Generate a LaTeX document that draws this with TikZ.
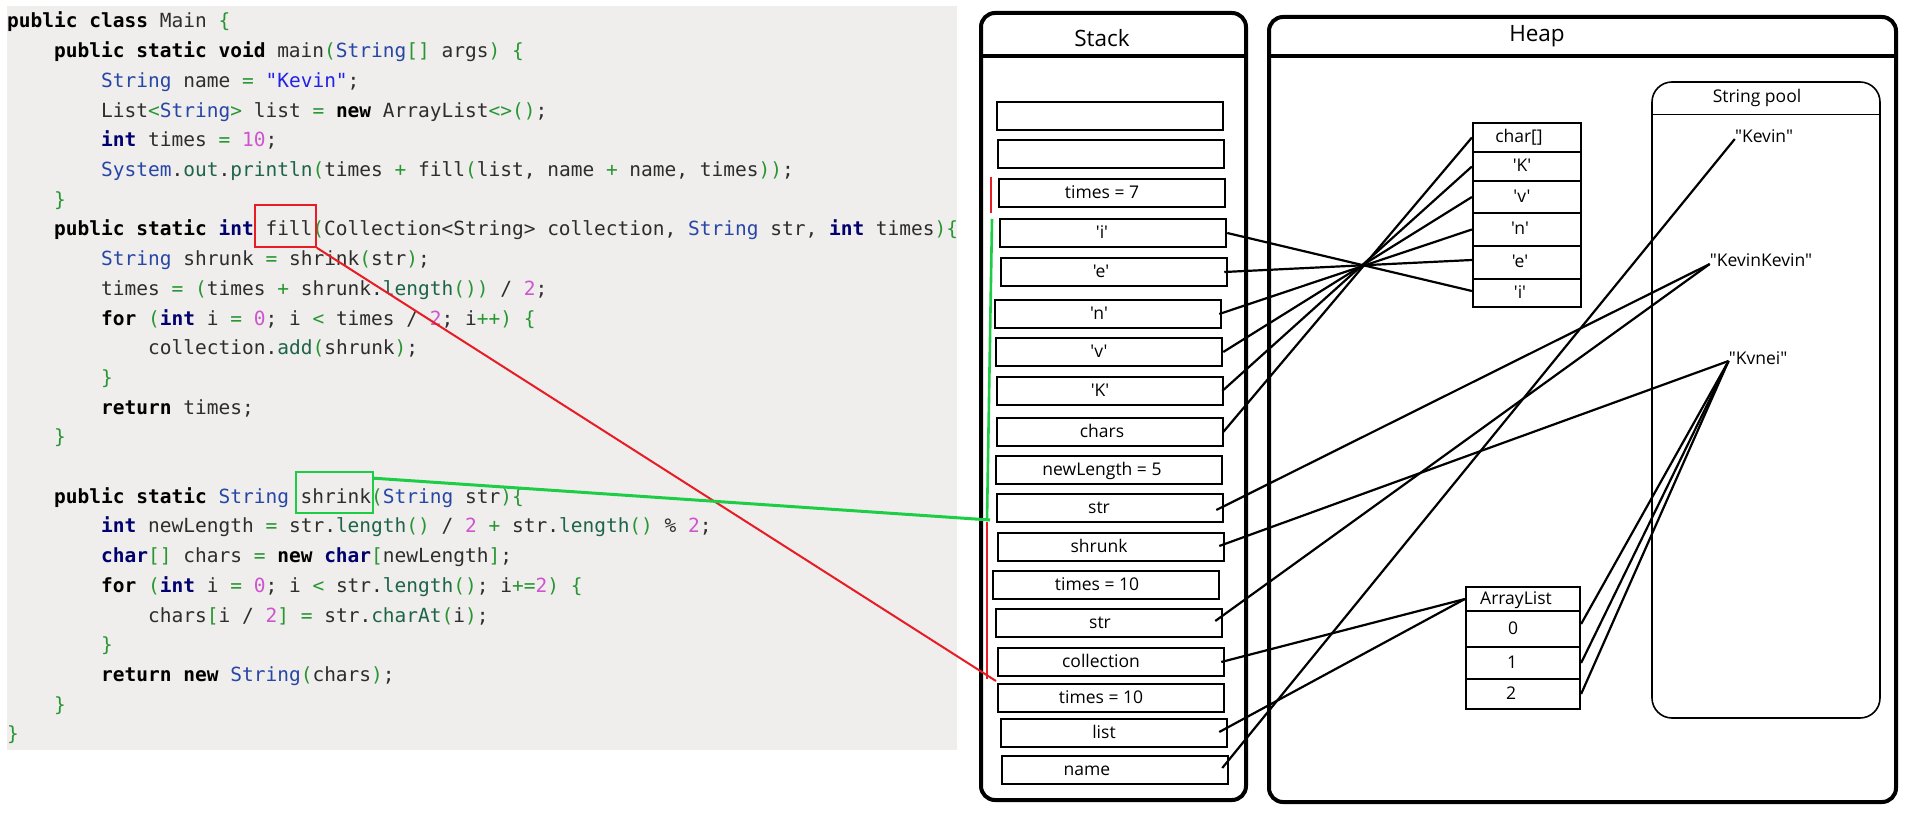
\documentclass[tikz,border=0pt]{standalone}
\usepackage{fontspec}
\newfontfamily\codefont{DejaVu Sans Mono}
\newfontfamily\diagfont{Open Sans}
\definecolor{codebg}{RGB}{239,238,237}
\definecolor{cid}{RGB}{45,45,45}
\definecolor{cnavy}{RGB}{0,0,110}
\definecolor{cblue}{RGB}{40,70,165}
\definecolor{cstr}{RGB}{35,35,230}
\definecolor{cnum}{RGB}{205,85,205}
\definecolor{cop}{RGB}{40,150,50}
\definecolor{cmem}{RGB}{30,100,70}
\definecolor{cred}{RGB}{232,28,36}
\definecolor{cgreen}{RGB}{30,205,70}
\newcommand\ckw[1]{{\bfseries\color{black}#1}}
\newcommand\cpt[1]{{\bfseries\color{cnavy}#1}}
\newcommand\cty[1]{{\color{cblue}#1}}
\newcommand\cst[1]{{\color{cstr}#1}}
\newcommand\cnm[1]{{\color{cnum}#1}}
\newcommand\cop[1]{{\color{cop}#1}}
\newcommand\cme[1]{{\color{cmem}#1}}
\begin{document}
\begin{tikzpicture}[x=1pt,y=-1pt,
  code/.style={anchor=base west, inner sep=0, font=\codefont\fontsize{19.5}{23}\selectfont, text=cid},
  lbl/.style={font=\diagfont\fontsize{17.5}{20}\selectfont, inner sep=0, text height=10.5, text depth=0},
  tx/.style 2 args={label={[lbl,xshift=#1]center:#2}},
  stk/.style={draw, line width=2.5, minimum width=226, minimum height=28, inner sep=0},
  cell/.style={draw, line width=2.2, inner sep=0},
  frame/.style={draw, line width=4, rounded corners=14},
  title/.style={font=\diagfont\fontsize{22.5}{26}\selectfont, inner sep=0},
  con/.style={line width=2.2},
  mark/.style={draw=#1, line width=1.6, inner sep=0},
  annot/.style={draw=#1, line width=2.6},
]
\useasboundingbox (0,0) rectangle (1907,816);
\fill[white] (0,0) rectangle (1907,816);
% ---------------- code ----------------
\fill[codebg] (7,6) rectangle (957,750);
\node[code] (L1) at (7,28) {\ckw{public class} Main \cop{\{}};
\node[code] (L2) at (54,57.7) {\ckw{public static void} main\cop{(}\cty{String}\cop{[]} args\cop{)} \cop{\{}};
\node[code] (L3) at (101,87.4) {\cty{String} name \cop{=} \cst{"Kevin"};};
\node[code] (L4) at (101,117.1) {List\cop{<}\cty{String}\cop{>} list \cop{=} \ckw{new} ArrayList\cop{<>()};};
\node[code] (L5) at (101,146.8) {\cpt{int} times \cop{=} \cnm{10};};
\node[code] (L6) at (101,176.5) {\cty{System}.\cme{out}.\cme{println}\cop{(}times \cop{+} fill\cop{(}list, name \cop{+} name, times\cop{))};};
\node[code] (L7) at (54,206.2) {\cop{\}}};
\node[code] (L8) at (54,235.9) {\ckw{public static} \cpt{int} fill\cop{(}Collection<String> collection, \cty{String} str, \cpt{int} times\cop{)\{}};
\node[code] (L9) at (101,265.6) {\cty{String} shrunk \cop{=} shrink\cop{(}str\cop{)};};
\node[code] (L10) at (101,295.3) {times \cop{=} \cop{(}times \cop{+} shrunk.\cme{length}\cop{())} / \cnm{2};};
\node[code] (L11) at (101,325) {\ckw{for} \cop{(}\cpt{int} i \cop{=} \cnm{0}; i \cop{<} times / \cnm{2}; i\cop{++)} \cop{\{}};
\node[code] (L12) at (148,354.7) {collection.\cme{add}\cop{(}shrunk\cop{)};};
\node[code] (L13) at (101,384.4) {\cop{\}}};
\node[code] (L14) at (101,414.1) {\ckw{return} times;};
\node[code] (L15) at (54,443.8) {\cop{\}}};
\node[code] (L17) at (54,503.2) {\ckw{public static} \cty{String} shrink\cop{(}\cty{String} str\cop{)\{}};
\node[code] (L18) at (101,532.9) {\cpt{int} newLength \cop{=} str.\cme{length}\cop{()} / \cnm{2} \cop{+} str.\cme{length}\cop{()} \% \cnm{2};};
\node[code] (L19) at (101,562.6) {\cpt{char}\cop{[]} chars \cop{=} \ckw{new} \cpt{char}\cop{[}newLength\cop{]};};
\node[code] (L20) at (101,592.3) {\ckw{for} \cop{(}\cpt{int} i \cop{=} \cnm{0}; i \cop{<} str.\cme{length}\cop{()}; i\cop{+=}\cnm{2}\cop{)} \cop{\{}};
\node[code] (L21) at (148,622) {chars\cop{[}i / \cnm{2}\cop{]} \cop{=} str.\cme{charAt}\cop{(}i\cop{)};};
\node[code] (L22) at (101,651.7) {\cop{\}}};
\node[code] (L23) at (101,681.4) {\ckw{return new} \cty{String}\cop{(}chars\cop{)};};
\node[code] (L24) at (54,711.1) {\cop{\}}};
\node[code] (L25) at (7,740.8) {\cop{\}}};
% highlight boxes
\node[mark=cred, minimum width=61, minimum height=42] (fillbox) at (285.5,226) {};
\node[mark=cgreen, minimum width=77, minimum height=41] (shrinkbox) at (334.5,492.5) {};
% ---------------- stack ----------------
\draw[frame] (981,13) rectangle (1246,800);
\draw[line width=4] (981,56) -- (1246,56);
\node[title] (stacktitle) at (1102,38) {Stack};
\node[stk] (s1) at (1110,116) {};
\node[stk] (s2) at (1111,154) {};
\node[stk, tx={-10}{times = 7}] (s3) at (1112,193) {};
\node[stk, tx={-11}{'i'}] (s4) at (1113,233) {};
\node[stk, tx={-13}{'e'}] (s5) at (1114,272) {};
\node[stk, tx={-9}{'n'}] (s6) at (1108,314) {};
\node[stk, tx={-10}{'v'}] (s7) at (1109,352) {};
\node[stk, tx={-10}{'K'}] (s8) at (1110,391) {};
\node[stk, tx={-8}{chars}] (s9) at (1110,432) {};
\node[stk, tx={-7}{newLength = 5}] (s10) at (1109,470) {};
\node[stk, tx={-11}{str}] (s11) at (1110,508) {};
\node[stk, tx={-12}{shrunk}] (s12) at (1111,547) {};
\node[stk, tx={-9}{times = 10}] (s13) at (1106,585) {};
\node[stk, tx={-9}{str}] (s14) at (1109,623) {};
\node[stk, tx={-10}{collection}] (s15) at (1111,662) {};
\node[stk, tx={-10}{times = 10}] (s16) at (1111,698) {};
\node[stk, tx={-10}{list}] (s17) at (1114,733) {};
\node[stk, tx={-28}{name}] (s18) at (1115,770) {};
% ---------------- heap ----------------
\draw[frame] (1269,17) rectangle (1896,802);
\draw[line width=4] (1269,56) -- (1896,56);
\node[title] (heaptitle) at (1537,36) {Heap};
% string pool
\draw[line width=1.6, rounded corners=20] (1652,82) rectangle (1880,718);
\draw[line width=1] (1652,114) -- (1880,114);
\node[lbl] (pooltitle) at (1757,97) {String pool};
\node[lbl] (kev) at (1764,137) {"Kevin"};
\node[lbl] (kk) at (1761,261) {"KevinKevin"};
\node[lbl] (kv) at (1758,359) {"Kvnei"};
% char[]
\node[cell, minimum width=108, minimum height=29, tx={-8}{char[]}] (c0) at (1527,137.5) {};
\node[cell, minimum width=108, minimum height=29, tx={-5}{'K'}] (cK) at (1527,166.5) {};
\node[cell, minimum width=108, minimum height=32, tx={-5}{'v'}] (cv) at (1527,197) {};
\node[cell, minimum width=108, minimum height=33, tx={-7}{'n'}] (cn) at (1527,229.5) {};
\node[cell, minimum width=108, minimum height=33, tx={-7}{'e'}] (ce) at (1527,262.5) {};
\node[cell, minimum width=108, minimum height=28, tx={-7}{'i'}] (ci) at (1527,293) {};
% ArrayList
\node[cell, minimum width=114, minimum height=24, tx={-7}{ArrayList}] (a0) at (1523,599) {};
\node[cell, minimum width=114, minimum height=36, tx={-10}{0}] (a1) at (1523,629) {};
\node[cell, minimum width=114, minimum height=32, tx={-11}{1}] (a2) at (1523,663) {};
\node[cell, minimum width=114, minimum height=30, tx={-12}{2}] (a3) at (1523,694) {};
% ---------------- connectors ----------------
\draw[con] ([xshift=-1pt]s9.east) -- (c0.west);
\draw[con] ([xshift=-2pt]s8.east) -- (cK.west);
\draw[con] (s7.east) -- (cv.west);
\draw[con] ([xshift=-3pt]s6.east) -- (cn.west);
\draw[con] ([xshift=-4pt]s5.east) -- ([yshift=2.5pt]ce.west);
\draw[con] (s4.east) -- ([yshift=2pt]ci.west);
\draw[con] ([xshift=-8pt,yshift=-2pt]s11.east) -- ([yshift=-3pt]kk.west);
\draw[con] ([xshift=-8pt,yshift=2pt]s14.east) -- ([yshift=-3pt]kk.west);
\draw[con] ([xshift=-6pt,yshift=1pt]s12.east) -- ([yshift=-2pt]kv.west);
\draw[con] ([xshift=-4pt]s15.east) -- (a0.west);
\draw[con] ([xshift=-9pt,yshift=1pt]s17.east) -- (a0.west);
\draw[con] ([xshift=-7pt,yshift=2pt]s18.east) -- ([yshift=-2pt]kev.west);
\draw[con] ([yshift=5pt]a1.east) -- ([yshift=-2pt]kv.west);
\draw[con] (a2.east) -- ([yshift=-2pt]kv.west);
\draw[con] (a3.east) -- ([yshift=-2pt]kv.west);
% annotations
\coordinate (rb1) at (991,177);
\coordinate (rb2) at (991,213);
\coordinate (gb1) at (992,219);
\coordinate (gb2) at (987,520);
\coordinate (rc1) at (987,522);
\coordinate (rc2) at (987,679);
\coordinate (rend) at (996,681);
\coordinate (gend) at (990,520);
\draw[annot=cred] (rb1) -- (rb2);
\draw[annot=cgreen] (gb1) -- (gb2);
\draw[annot=cred] (rc1) -- (rc2);
\draw[cred, line width=2] (fillbox.south east) -- (rend);
\draw[cgreen, line width=3] ([yshift=-7pt]shrinkbox.north east) -- (gend);
\end{tikzpicture}
\end{document}
